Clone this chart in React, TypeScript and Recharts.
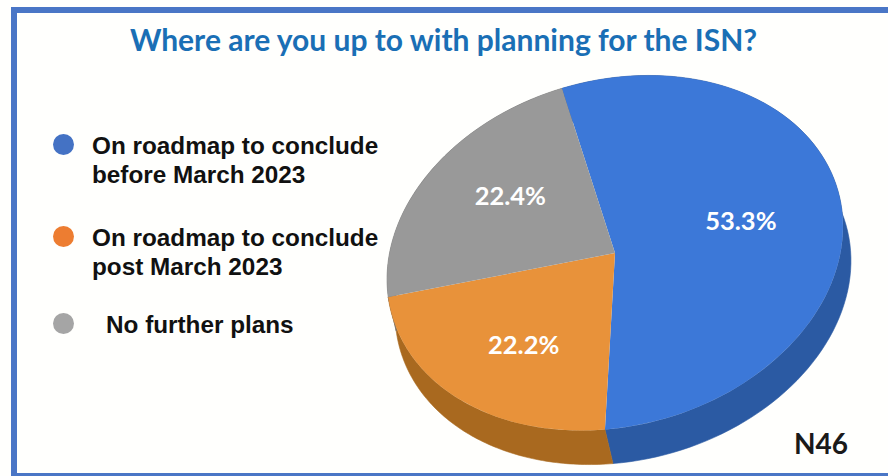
import React from "react";
import { PieChart, Pie, Cell, Legend } from "recharts";

const categories = [
  "On roadmap to conclude\nbefore March 2023",
  "On roadmap to conclude\npost March 2023",
  "No further plans",
];
const shares = [53.3, 22.2, 22.4];
const shareLabels = ["53.3%", "22.2%", "22.4%"];
const topColors = ["#3c78d8", "#e8923a", "#999999"];
const sideColors = ["#2b5aa3", "#a9691f", "#777777"];
const legendColors = ["#4472c4", "#ed7d31", "#a5a5a5"];
const chartData = categories.map((name, i) => ({ name, value: shares[i] }));

const W = 888;
const H = 476;
const TILT = 15.2;
const ASPECT = 172.9 / 231.5;
const DEPTH_X = 8;
const DEPTH_Y = 34;
const RAD = Math.PI / 180;
const C = Math.cos(TILT * RAD);
const S = Math.sin(TILT * RAD);
const labelNudge = [
  { dx: -8, dy: -8 },
  { dx: 1, dy: 5 },
  { dx: 5, dy: -11 },
];

function rim(cx: number, cy: number, r: number, deg: number, f = 1) {
  const u = r * f * Math.cos(deg * RAD);
  const v = -r * ASPECT * f * Math.sin(deg * RAD);
  return { x: cx + u * C + v * S, y: cy - u * S + v * C };
}

function TopSlice(p: any) {
  const { cx, cy, outerRadius: r, startAngle, endAngle, fill } = p;
  const a = rim(cx, cy, r, startAngle);
  const b = rim(cx, cy, r, endAngle);
  const large = Math.abs(startAngle - endAngle) > 180 ? 1 : 0;
  const d = `M${cx},${cy}L${a.x},${a.y}A${r},${r * ASPECT} ${-TILT} ${large} 1 ${b.x},${b.y}Z`;
  return <path d={d} fill={fill} />;
}

function SideSlice(p: any) {
  const { cx, cy, outerRadius: r, startAngle, endAngle, fill } = p;
  const n = 90;
  const front: string[] = [];
  const back: string[] = [];
  for (let i = 0; i <= n; i++) {
    const t = startAngle + ((endAngle - startAngle) * i) / n;
    const q = rim(cx, cy, r, t);
    front.push(`${q.x},${q.y}`);
    back.unshift(`${q.x + DEPTH_X},${q.y + DEPTH_Y}`);
  }
  return <polygon points={[...front, ...back].join(" ")} fill={fill} stroke={fill} strokeWidth={0.6} />;
}

function SliceLabel(p: any) {
  const { cx, cy, outerRadius: r, midAngle, index } = p;
  const q = rim(cx, cy, r, midAngle, 0.59);
  return (
    <text
      x={q.x + labelNudge[index].dx}
      y={q.y + labelNudge[index].dy}
      textAnchor="middle"
      dominantBaseline="central"
      fill="#ffffff"
      fontFamily="Lato"
      fontWeight={700}
      fontSize={25.5}
    >
      {shareLabels[index]}
    </text>
  );
}

const legendDots = [
  { x: 63.5, y: 144, tx: 92, ty: 131 },
  { x: 63.5, y: 236, tx: 92, ty: 223 },
  { x: 63, y: 323, tx: 106, ty: 310 },
];

function LegendBlock() {
  return (
    <div style={{ position: "absolute", left: 0, top: 0, width: W, height: H }}>
      {categories.map((c, i) => (
        <React.Fragment key={c}>
          <div
            style={{
              position: "absolute",
              left: legendDots[i].x - 10.5,
              top: legendDots[i].y - 10.5,
              width: 21,
              height: 21,
              borderRadius: "50%",
              background: legendColors[i],
            }}
          />
          <div
            style={{
              position: "absolute",
              left: legendDots[i].tx,
              top: legendDots[i].ty,
              whiteSpace: "pre",
              fontFamily: "Liberation Sans",
              fontWeight: 700,
              fontSize: 24.3,
              lineHeight: "29px",
              color: "#111111",
            }}
          >
            {c}
          </div>
        </React.Fragment>
      ))}
    </div>
  );
}

export default function App() {
  return (
    <div style={{ position: "fixed", left: 0, top: 0, width: W, height: H, overflow: "hidden", background: "#fffffd" }}>
      <div
        style={{
          position: "absolute",
          left: 11,
          top: 7,
          width: W,
          height: H - 7,
          boxSizing: "border-box",
          border: "6px solid #4a76c6",
          borderBottomWidth: 3,
        }}
      />
      <div
        style={{
          position: "absolute",
          left: 0,
          width: W - 1,
          top: 19,
          textAlign: "center",
          fontFamily: "Lato",
          fontWeight: 700,
          fontSize: 30,
          lineHeight: "40px",
          color: "#1a6fb5",
        }}
      >
        Where are you up to with planning for the ISN?
      </div>
      <PieChart
        width={W}
        height={H}
        margin={{ top: 0, right: 0, bottom: 0, left: 0 }}
        style={{ position: "absolute", left: 0, top: 0 }}
      >
        <Pie
          data={chartData}
          dataKey="value"
          nameKey="name"
          cx={615}
          cy={253}
          outerRadius={231.5}
          startAngle={92}
          endAngle={-268}
          stroke="none"
          isAnimationActive={false}
          shape={SideSlice}
        >
          {chartData.map((d, i) => (
            <Cell key={d.name} fill={sideColors[i]} />
          ))}
        </Pie>
        <Pie
          data={chartData}
          dataKey="value"
          nameKey="name"
          cx={615}
          cy={253}
          outerRadius={231.5}
          startAngle={92}
          endAngle={-268}
          stroke="none"
          isAnimationActive={false}
          shape={TopSlice}
          label={SliceLabel}
          labelLine={false}
        >
          {chartData.map((d, i) => (
            <Cell key={d.name} fill={topColors[i]} />
          ))}
        </Pie>
        <Legend content={LegendBlock} wrapperStyle={{ position: "absolute", left: 0, top: 0, width: W, height: H }} />
      </PieChart>
      <div
        style={{
          position: "absolute",
          left: 794,
          top: 425,
          fontFamily: "Lato",
          fontWeight: 700,
          fontSize: 28,
          lineHeight: "36px",
          color: "#1a1a1a",
        }}
      >
        N46
      </div>
    </div>
  );
}
